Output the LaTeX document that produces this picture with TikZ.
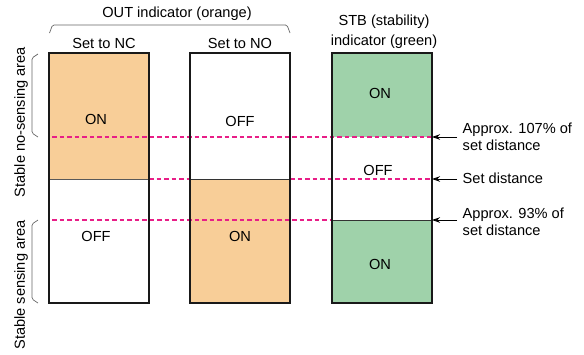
\documentclass[tikz,border=0pt]{standalone}
\usepackage{fontspec}
\setmainfont{Liberation Sans}
\usetikzlibrary{arrows.meta}
\definecolor{outorange}{RGB}{248,206,152}
\definecolor{stbgreen}{RGB}{159,210,170}
\definecolor{dashpink}{RGB}{232,30,135}
\begin{document}
\begin{tikzpicture}[x=1pt,y=-1pt,
  lbl/.style={font=\fontsize{14.6}{17}\selectfont, inner sep=0pt},
  boxline/.style={line width=1.3pt, draw=black!90},
  divline/.style={line width=1pt, draw=black!80},
  pinkdash/.style={draw=dashpink, line width=1.5pt, dash pattern=on 4.5pt off 3pt},
  bracket/.style={draw=black!60, line width=0.7pt, rounded corners=1.5pt},
  ptr/.style={line width=0.9pt, -{Stealth[length=8pt,width=5.5pt]}}]
\useasboundingbox (0,0) rectangle (584,354);
% named coordinates
\coordinate (b1tl) at (49,53);   \coordinate (b1br) at (149,303);
\coordinate (b2tl) at (190,53);  \coordinate (b2br) at (290,303);
\coordinate (b3tl) at (332,53);  \coordinate (b3br) at (432,303);
\coordinate (e107) at (432,137); \coordinate (eset) at (432,179); \coordinate (e93) at (432,220);
\coordinate (s107) at (457,137); \coordinate (sset) at (457,179); \coordinate (s93) at (457,220);
\coordinate (d107) at (52,137);  \coordinate (dset) at (149,179); \coordinate (d93) at (52,220);
\coordinate (f93) at (332,220);
% fills
\fill[outorange] (49,53) rectangle (149,179);
\fill[outorange] (190,179) rectangle (290,303);
\fill[stbgreen] (332,53) rectangle (432,137);
\fill[stbgreen] (332,220) rectangle (432,303);
% solid dividers
\draw[divline, draw=black!65] (49,179) -- (149,179);
\draw[divline] (190,179) -- (290,179);
\draw[divline] (f93) -- (e93);
% dashed threshold lines
\draw[pinkdash] (d93) -- (f93);
\draw[pinkdash] (d107) -- (e107);
\draw[pinkdash] (dset) -- (190,179);
\draw[pinkdash] (290,179) -- (eset);
% box outlines
\draw[boxline] (b1tl) rectangle (b1br);
\draw[boxline] (b2tl) rectangle (b2br);
\draw[boxline] (b3tl) rectangle (b3br);
% arrows
\draw[ptr] (s107) -- (e107);
\draw[ptr] (sset) -- (eset);
\draw[ptr] (s93) -- (e93);
% brackets
\draw[bracket] (49.5,33) -- (52.5,25) -- (287,25) -- (290,33);
\draw[bracket] (38,54) -- (32,58) -- (32,133) -- (38,137);
\draw[bracket] (38,220) -- (32,224) -- (32,299) -- (38,303);
% headings
\node[lbl] (outhead) at (177,14) {OUT indicator (orange)};
\node[lbl] (nchead) at (104,43) {Set to NC};
\node[lbl] (nohead) at (240,43) {Set to NO};
\node[lbl] (stbhead1) at (384,22) {STB (stability)};
\node[lbl] (stbhead2) at (384,42) {indicator (green)};
% box texts
\node[lbl] (t1a) at (96,119) {ON};
\node[lbl] (t1b) at (96,236) {OFF};
\node[lbl] (t2a) at (240,121) {OFF};
\node[lbl] (t2b) at (240,236) {ON};
\node[lbl] (t3a) at (380,93) {ON};
\node[lbl] (t3b) at (378,170) {OFF};
\node[lbl] (t3c) at (380,264) {ON};
% left side labels
\node[lbl, rotate=90] (nosense) at (21,122) {Stable no-sensing area};
\node[lbl, rotate=90] (sense) at (21,285) {Stable sensing area};
% right labels
\node[lbl, anchor=base west] (r1a) at (462.5,133.5) {Approx. 107\% of};
\node[lbl, anchor=base west] (r1b) at (462.5,150.5) {set distance};
\node[lbl, anchor=base west] (r2) at (462.5,183) {Set distance};
\node[lbl, anchor=base west] (r3a) at (462.5,218.5) {Approx. 93\% of};
\node[lbl, anchor=base west] (r3b) at (462.5,235.5) {set distance};
\end{tikzpicture}
\end{document}
